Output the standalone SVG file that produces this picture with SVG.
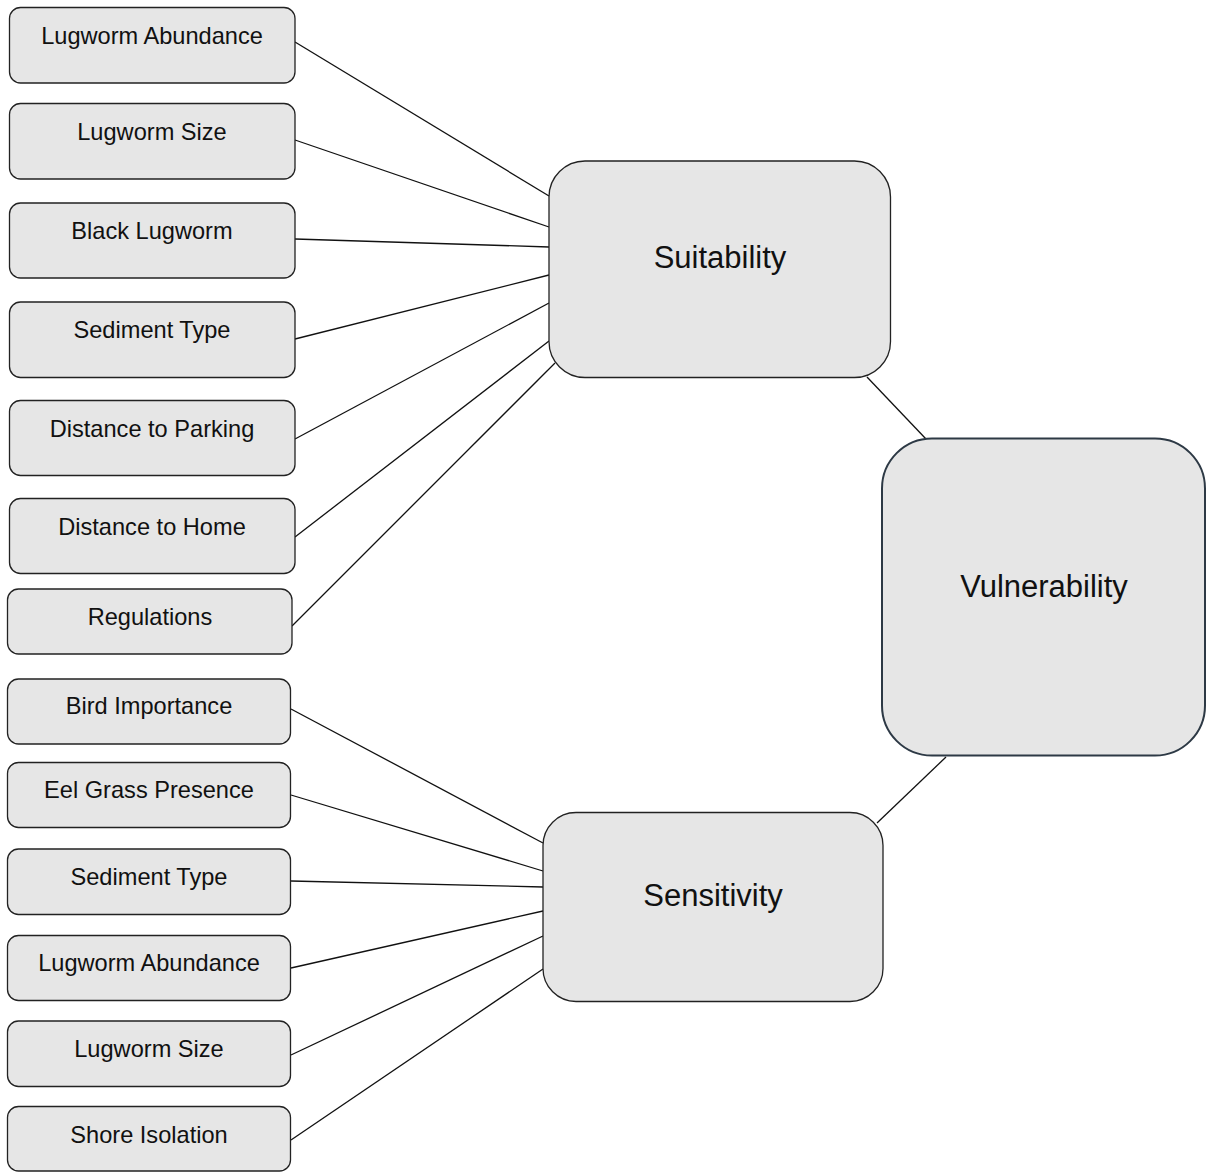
<svg xmlns="http://www.w3.org/2000/svg" width="1206" height="1172" viewBox="0 0 1206 1172">
<style>
.box{fill:#e6e6e6;stroke:#222;stroke-width:1.3}
.vbox{fill:#e6e6e6;stroke:#2d3945;stroke-width:2}
.lbl{font-family:"Liberation Sans",Arial,sans-serif;font-size:23.6px;fill:#111;text-anchor:middle}
.big{font-family:"Liberation Sans",Arial,sans-serif;font-size:31px;fill:#111;text-anchor:middle}
.edge{stroke:#111;stroke-width:1.3;fill:none}
</style>
<rect width="1206" height="1172" fill="#fff"/>
<g id="connectors">
<line class="edge" x1="295" y1="42" x2="549" y2="196"/>
<line class="edge" x1="295" y1="140" x2="549" y2="227"/>
<line class="edge" x1="295" y1="239" x2="549" y2="247"/>
<line class="edge" x1="295" y1="339" x2="549" y2="275"/>
<line class="edge" x1="295" y1="439" x2="549" y2="303"/>
<line class="edge" x1="295" y1="537" x2="549" y2="341"/>
<line class="edge" x1="292" y1="626" x2="555" y2="363"/>
<line class="edge" x1="291" y1="709" x2="543" y2="843"/>
<line class="edge" x1="291" y1="795" x2="543" y2="871"/>
<line class="edge" x1="291" y1="881" x2="543" y2="887"/>
<line class="edge" x1="291" y1="968" x2="543" y2="911"/>
<line class="edge" x1="291" y1="1055" x2="543" y2="936"/>
<line class="edge" x1="291" y1="1140" x2="543" y2="969"/>
<line class="edge" x1="867" y1="377" x2="926" y2="439"/>
<line class="edge" x1="946" y1="757" x2="877" y2="823"/>
</g>
<g id="n-lugworm-abundance-1"><rect class="box" x="9.5" y="7.5" width="285.5" height="75.5" rx="11"/><text class="lbl" x="152" y="44">Lugworm Abundance</text></g>
<g id="n-lugworm-size-1"><rect class="box" x="9.5" y="103.5" width="285.5" height="75.5" rx="11"/><text class="lbl" x="152" y="140">Lugworm Size</text></g>
<g id="n-black-lugworm"><rect class="box" x="9.5" y="203" width="285.5" height="75" rx="11"/><text class="lbl" x="152" y="239">Black Lugworm</text></g>
<g id="n-sediment-type-1"><rect class="box" x="9.5" y="302" width="285.5" height="75.5" rx="11"/><text class="lbl" x="152" y="338">Sediment Type</text></g>
<g id="n-distance-parking"><rect class="box" x="9.5" y="400.5" width="285.5" height="75" rx="11"/><text class="lbl" x="152" y="437">Distance to Parking</text></g>
<g id="n-distance-home"><rect class="box" x="9.5" y="498.5" width="285.5" height="75" rx="11"/><text class="lbl" x="152" y="535">Distance to Home</text></g>
<g id="n-regulations"><rect class="box" x="7.5" y="589" width="284.5" height="65" rx="11"/><text class="lbl" x="150" y="625">Regulations</text></g>
<g id="n-bird-importance"><rect class="box" x="7.5" y="679" width="283" height="65" rx="11"/><text class="lbl" x="149" y="714">Bird Importance</text></g>
<g id="n-eel-grass"><rect class="box" x="7.5" y="762.5" width="283" height="65" rx="11"/><text class="lbl" x="149" y="798">Eel Grass Presence</text></g>
<g id="n-sediment-type-2"><rect class="box" x="7.5" y="849" width="283" height="65.5" rx="11"/><text class="lbl" x="149" y="885">Sediment Type</text></g>
<g id="n-lugworm-abundance-2"><rect class="box" x="7.5" y="935.5" width="283" height="65" rx="11"/><text class="lbl" x="149" y="971">Lugworm Abundance</text></g>
<g id="n-lugworm-size-2"><rect class="box" x="7.5" y="1021" width="283" height="65.5" rx="11"/><text class="lbl" x="149" y="1057">Lugworm Size</text></g>
<g id="n-shore-isolation"><rect class="box" x="7.5" y="1106.5" width="283" height="64.5" rx="11"/><text class="lbl" x="149" y="1143">Shore Isolation</text></g>
<g id="n-suitability"><rect class="box" x="549" y="161" width="341.5" height="216.5" rx="36"/><text class="big" x="720" y="268">Suitability</text></g>
<g id="n-sensitivity"><rect class="box" x="543" y="812.5" width="340" height="189" rx="33"/><text class="big" x="713" y="906">Sensitivity</text></g>
<g id="n-vulnerability"><rect class="vbox" x="882" y="438.5" width="323" height="317" rx="50"/><text class="big" x="1044" y="597">Vulnerability</text></g>
</svg>
